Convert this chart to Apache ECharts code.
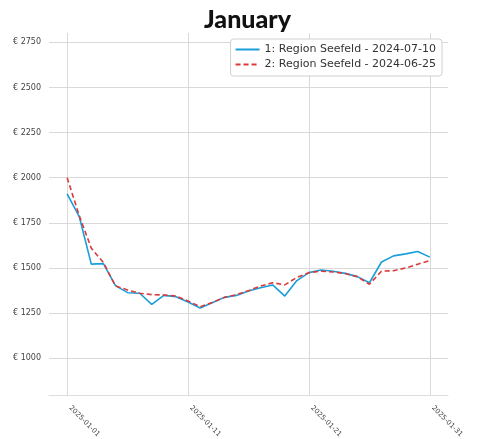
<!DOCTYPE html>
<html>
<head>
<meta charset="utf-8">
<script src="https://cdn.jsdelivr.net/npm/echarts@6/dist/echarts.min.js"></script>
<style>
  html, body { margin: 0; padding: 0; background: #fff; }
  #chart { width: 480px; height: 439px; }
</style>
</head>
<body>
<div id="chart"></div>
<script>
var dates = ['2025-01-01','2025-01-02','2025-01-03','2025-01-04','2025-01-05','2025-01-06','2025-01-07','2025-01-08',
  '2025-01-09','2025-01-10','2025-01-11','2025-01-12','2025-01-13','2025-01-14','2025-01-15','2025-01-16',
  '2025-01-17','2025-01-18','2025-01-19','2025-01-20','2025-01-21','2025-01-22','2025-01-23','2025-01-24',
  '2025-01-25','2025-01-26','2025-01-27','2025-01-28','2025-01-29','2025-01-30','2025-01-31'];
var seefeldJul = [1911, 1785, 1521, 1524, 1402, 1363, 1360, 1298, 1348, 1341, 1311, 1278, 1307, 1337, 1348, 1372,
  1390, 1406, 1344, 1430, 1474, 1489, 1482, 1470, 1452, 1418, 1533, 1567, 1578, 1591, 1560];
var seefeldJun = [2000, 1790, 1609, 1530, 1400, 1378, 1360, 1352, 1350, 1344, 1317, 1285, 1309, 1337, 1352, 1374,
  1400, 1418, 1406, 1448, 1474, 1482, 1478, 1469, 1452, 1410, 1482, 1485, 1500, 1521, 1541];
var seriesNames = ['1: Region Seefeld - 2024-07-10', '2: Region Seefeld - 2024-06-25'];
var xTicks = ['2025-01-01', '2025-01-11', '2025-01-21', '2025-01-31'];
var yTicks = [1000, 1250, 1500, 1750, 2000, 2250, 2500, 2750];

// x is the day index within dates, labels map back to the date string
function pairs(vals) { return dates.map(function (d, i) { return [i, vals[i]]; }); }
var xTickIdx = xTicks.map(function (d) { return dates.indexOf(d); });

var chart = echarts.init(document.getElementById('chart'));
var option = {
  animation: false,
  title: {
    text: 'January',
    left: 199, top: 2,
    textStyle: { fontFamily: 'Lato', fontWeight: 900, fontSize: 25, color: '#111' }
  },
  legend: {
    orient: 'vertical',
    right: 38, top: 39,
    padding: [5, 6, 6, 4],
    itemGap: 4,
    itemWidth: 24, itemHeight: 12,
    backgroundColor: '#fff',
    borderColor: '#d0d0d0', borderWidth: 1, borderRadius: 3,
    itemStyle: { opacity: 0 },
    textStyle: { fontFamily: 'DejaVu Sans', fontSize: 11, color: '#333' },
    data: seriesNames
  },
  grid: { left: 49, right: 32, top: 33, bottom: 44, outerBoundsMode: 'none' },
  xAxis: {
    type: 'value',
    min: -1.5, max: dates.length + 0.5,
    axisLine: { show: true, lineStyle: { color: '#dddddd', width: 1 } },
    axisTick: { show: false, customValues: xTickIdx },
    axisLabel: {
      customValues: xTickIdx,
      rotate: -45,
      fontFamily: 'DejaVu Sans', fontSize: 7, color: '#444',
      margin: 9,
      padding: [0, 0, 0, 4],
      formatter: function (v) { return dates[Math.round(v)] || ''; }
    },
    splitLine: { show: true, lineStyle: { color: '#d9d9d9', width: 1 } }
  },
  yAxis: {
    type: 'value',
    min: 796, max: 2802,
    axisLine: { show: false },
    axisTick: { show: false, customValues: yTicks },
    axisLabel: {
      customValues: yTicks,
      fontFamily: 'DejaVu Sans', fontSize: 8, color: '#444', margin: 8,
      formatter: function (v) { return '€ ' + v; }
    },
    splitLine: { show: true, lineStyle: { color: '#d9d9d9', width: 1 } }
  },
  series: [
    {
      name: seriesNames[0], type: 'line', symbol: 'none',
      lineStyle: { color: '#1a9edb', width: 1.6 }, itemStyle: { color: '#1a9edb' },
      data: pairs(seefeldJul)
    },
    {
      name: seriesNames[1], type: 'line', symbol: 'none',
      lineStyle: { color: '#dc3a3a', width: 1.6, type: [5, 3] }, itemStyle: { color: '#dc3a3a' },
      data: pairs(seefeldJun)
    }
  ]
};
chart.setOption(option);
</script>
</body>
</html>
